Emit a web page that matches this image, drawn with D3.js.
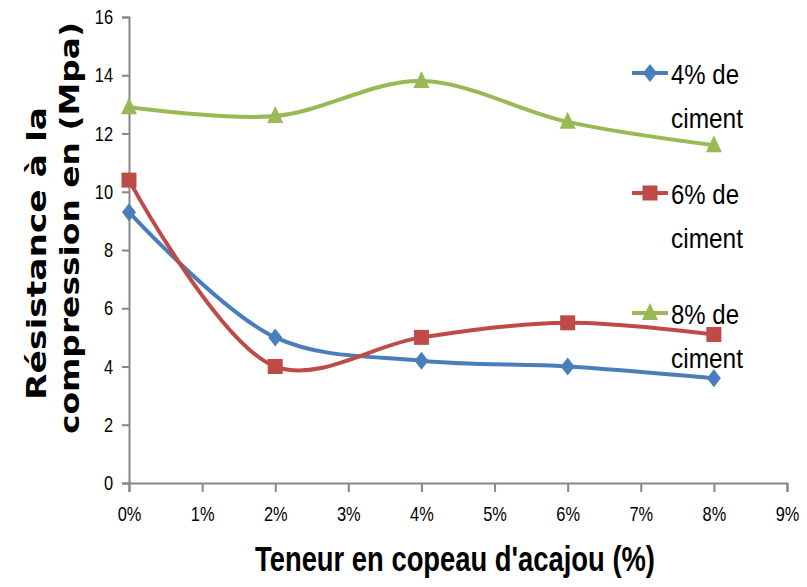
<!DOCTYPE html>
<html>
<head>
<meta charset="utf-8">
<script src="https://cdn.jsdelivr.net/npm/d3@7"></script>
<style>
  html, body { margin: 0; padding: 0; background: #fff; }
  svg { display: block; }
</style>
</head>
<body>
<script>
// Teneur en copeau d'acajou (%) — x positions
const teneur = [0, 2, 4, 6, 8];
// Résistance à la compression (MPa) par dosage en ciment
const ciment4 = [9.3, 5.0, 4.2, 4.0, 3.6];
const ciment6 = [10.4, 4.0, 5.0, 5.5, 5.1];
const ciment8 = [12.9, 12.6, 13.8, 12.4, 11.6];
const xTicks = [0, 1, 2, 3, 4, 5, 6, 7, 8, 9];
const yTicks = [0, 2, 4, 6, 8, 10, 12, 14, 16];
const seriesNames = [["4% de", "ciment"], ["6% de", "ciment"], ["8% de", "ciment"]];

const W = 807, H = 587;
const svg = d3.select("body").append("svg").attr("width", W).attr("height", H);

const x = d3.scaleLinear().domain([0, 9]).range([129, 787]);
const y = d3.scaleLinear().domain([0, 16]).range([483, 17]);

const axisColor = "#878787";
const sans = "'Liberation Sans', Arial, sans-serif";

// squeeze a text horizontally to a narrower look
function condense(sel, k) {
  sel.each(function () {
    const w = this.getComputedTextLength();
    d3.select(this).attr("textLength", w * k).attr("lengthAdjust", "spacingAndGlyphs");
  });
}

// Y axis
const gy = svg.append("g").attr("transform", `translate(${x(0)},0)`)
  .call(d3.axisLeft(y).tickValues(yTicks).tickSize(7).tickPadding(9).tickFormat(d3.format("d")));
gy.select(".domain").attr("stroke", axisColor).attr("stroke-width", 2);
gy.selectAll(".tick line").attr("stroke", axisColor).attr("stroke-width", 2);
gy.selectAll(".tick text").attr("font-family", sans).attr("font-size", 21).attr("fill", "#000")
  .call(condense, 0.78);

// X axis
const gx = svg.append("g").attr("transform", `translate(0,${y(0)})`)
  .call(d3.axisBottom(x).tickValues(xTicks).tickSize(9).tickPadding(14).tickFormat(d => d + "%"));
gx.select(".domain").attr("stroke", axisColor).attr("stroke-width", 2);
gx.selectAll(".tick line").attr("stroke", axisColor).attr("stroke-width", 2);
gx.selectAll(".tick text").attr("font-family", sans).attr("font-size", 21).attr("fill", "#000")
  .call(condense, 0.78);

// Series
const series = [
  { values: ciment4, color: "#4a7ebb", shape: "diamond" },
  { values: ciment6, color: "#be4b48", shape: "square" },
  { values: ciment8, color: "#98b954", shape: "triangle" }
];

const line = d3.line()
  .x(d => x(d[0]))
  .y(d => y(d[1]))
  .curve(d3.curveCatmullRom.alpha(0.5));

function marker(g, shape, color, cx, cy) {
  if (shape === "diamond") {
    g.append("path").attr("d", `M${cx},${cy - 9}L${cx + 7},${cy}L${cx},${cy + 9}L${cx - 7},${cy}Z`).attr("fill", color);
  } else if (shape === "square") {
    g.append("rect").attr("x", cx - 7.5).attr("y", cy - 7.5).attr("width", 15).attr("height", 15).attr("fill", color);
  } else {
    g.append("path").attr("d", `M${cx},${cy - 10}L${cx + 8},${cy + 7}L${cx - 8},${cy + 7}Z`).attr("fill", color);
  }
}

series.forEach(s => {
  const pts = teneur.map((t, i) => [t, s.values[i]]);
  svg.append("path").datum(pts)
    .attr("d", line)
    .attr("fill", "none")
    .attr("stroke", s.color)
    .attr("stroke-width", 4)
    .attr("stroke-linejoin", "round");
  const gm = svg.append("g");
  pts.forEach(p => marker(gm, s.shape, s.color, x(p[0]), y(p[1])));
});

// Legend
const legendY = [73, 193, 313];
series.forEach((s, i) => {
  const g = svg.append("g");
  const ly = legendY[i];
  g.append("line").attr("x1", 632).attr("x2", 668).attr("y1", ly).attr("y2", ly)
    .attr("stroke", s.color).attr("stroke-width", 4);
  marker(g, s.shape, s.color, 650, ly);
  g.append("text").attr("x", 671).attr("y", ly + 11)
    .attr("font-family", sans).attr("font-size", 27).attr("fill", "#000")
    .attr("textLength", 68).attr("lengthAdjust", "spacingAndGlyphs")
    .text(seriesNames[i][0]);
  g.append("text").attr("x", 671).attr("y", ly + 55)
    .attr("font-family", sans).attr("font-size", 27).attr("fill", "#000")
    .attr("textLength", 72).attr("lengthAdjust", "spacingAndGlyphs")
    .text(seriesNames[i][1]);
});

// X axis title
svg.append("text")
  .attr("x", 255).attr("y", 571)
  .attr("font-family", sans).attr("font-weight", "bold")
  .attr("font-size", 35)
  .attr("textLength", 400).attr("lengthAdjust", "spacingAndGlyphs")
  .attr("fill", "#000")
  .text("Teneur en copeau d'acajou (%)");

// Y axis title (two lines, rotated)
const yTitle = [
  { text: "Résistance à la", x: 46, start: 400, len: 293 },
  { text: "compression en (Mpa)", x: 79, start: 434, len: 412 }
];
yTitle.forEach(l => {
  svg.append("text")
    .attr("transform", `translate(${l.x},${l.start}) rotate(-90)`)
    .attr("font-family", "'DejaVu Sans', Verdana, sans-serif").attr("font-weight", "bold")
    .attr("font-size", 26)
    .attr("textLength", l.len).attr("lengthAdjust", "spacingAndGlyphs")
    .attr("fill", "#000")
    .text(l.text);
});
</script>
</body>
</html>
